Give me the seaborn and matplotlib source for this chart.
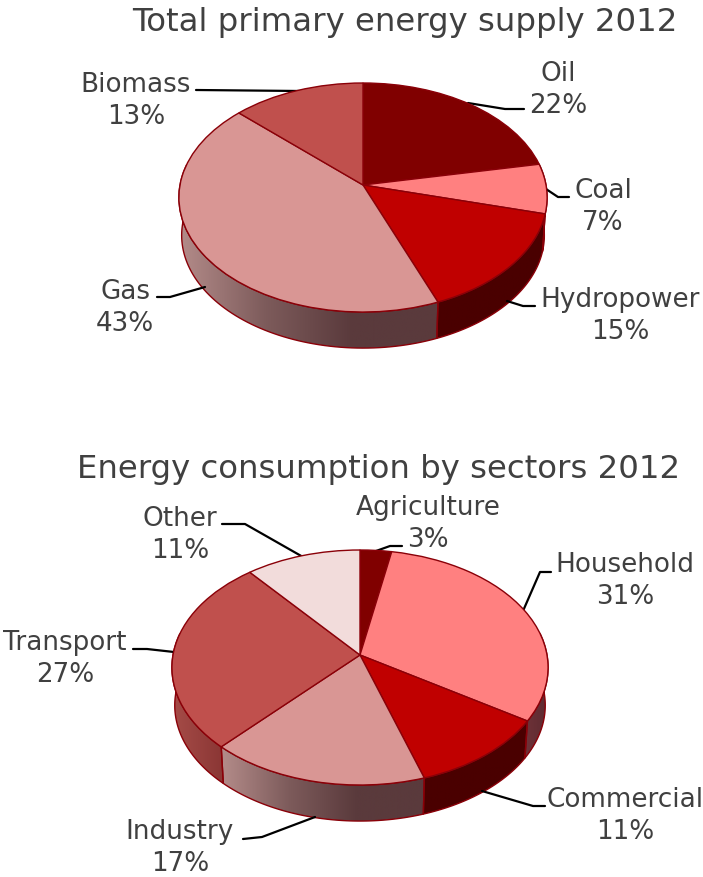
import numpy as np
import matplotlib
matplotlib.use("Agg")
import matplotlib.pyplot as plt
from matplotlib.colors import LinearSegmentedColormap
from matplotlib.patches import Polygon
from matplotlib.transforms import Transform
import seaborn as sns

# Shares in percent, clockwise from twelve o'clock
supply_names = ["Oil", "Coal", "Hydropower", "Gas", "Biomass"]
supply_values = [22, 7, 15, 43, 13]
sector_names = ["Agriculture", "Household", "Commercial", "Industry", "Transport", "Other"]
sector_values = [3, 31, 11, 17, 27, 11]
titles = ["Total primary energy supply 2012", "Energy consumption by sectors 2012"]

# Top-face fills
supply_colors = ["#800000", "#ff8080", "#c00000", "#d99694", "#c0504d"]
sector_colors = ["#800000", "#ff8080", "#c00000", "#d99694", "#c0504d", "#f2dcdb"]

# Rim shading per slice: colour stops running left to right
dark = ["#4a0000", "#4a0000"]
grey_rose = ["#b48c8a", "#7d5b5b", "#5a3a3c", "#5a3a3c"]
plum = ["#6e3238", "#5c2a30"]
brick = ["#a64c48", "#8a3634"]
supply_rims = [dark, plum, dark, grey_rose, brick]
sector_rims = [dark, plum, dark, grey_rose, brick, brick]

EDGE = "#8a0008"
INK = "#404040"
W, H = 703, 878
RIM_DEPTH = 38
RIM_SHRINK = 0.985


class DiscProjection(Transform):
    """Perspective view of the unit disc, giving canvas pixels."""
    input_dims = 2
    output_dims = 2
    is_separable = False
    has_inverse = False

    def __init__(self, cx, cy, rx, up, down, shrink=1.0, drop=0.0):
        super().__init__()
        self.k = (down - up) / (down + up)
        self.sy = up * (1 + self.k)
        self.cx, self.cy, self.rx = cx, cy, rx
        self.shrink, self.drop = shrink, drop

    def transform_non_affine(self, values):
        u, v = np.asarray(values, dtype=float).T
        w = 1 + self.k * v
        x = self.cx + self.shrink * self.rx * u / w
        y = self.cy + self.drop - self.shrink * self.sy * v / w
        return np.column_stack([x, y])


def arc_points(start_pct, stop_pct):
    angle = np.radians(np.linspace(start_pct, stop_pct, 80) * 3.6)
    return np.column_stack([np.sin(angle), np.cos(angle)])


def draw_rim(ax, top, bottom, start_pct, stop_pct, stops):
    # Only the near side of the cylinder is visible
    start_pct, stop_pct = max(start_pct, 22.0), min(stop_pct, 78.0)
    if stop_pct <= start_pct:
        return
    arc = arc_points(start_pct, stop_pct)
    outline = np.vstack([top.transform_non_affine(arc),
                         bottom.transform_non_affine(arc)[::-1]])
    patch = Polygon(outline, closed=True, facecolor="none", edgecolor=EDGE,
                    linewidth=1.0, zorder=1.5)
    ax.add_patch(patch)
    cmap = LinearSegmentedColormap.from_list("rim", stops)
    left, right = outline[:, 0].min(), outline[:, 0].max()
    low, high = outline[:, 1].min(), outline[:, 1].max()
    image = ax.imshow(np.linspace(0, 1, 256)[None, :], cmap=cmap, aspect="auto",
                      extent=(left, right, high, low), zorder=1)
    image.set_clip_path(patch)


def draw_pie(ax, values, colors, rims, geometry):
    top = DiscProjection(**geometry)
    bottom = DiscProjection(**geometry, shrink=RIM_SHRINK, drop=RIM_DEPTH)
    wedges, _ = ax.pie(values, colors=sns.color_palette(colors), startangle=90,
                       counterclock=False,
                       wedgeprops=dict(edgecolor=EDGE, linewidth=1.0))
    for wedge in wedges:
        wedge.set_transform(top + ax.transData)
        wedge.set_zorder(3)
    edges = np.concatenate([[0], np.cumsum(values)])
    for start, stop, stops in zip(edges[:-1], edges[1:], rims):
        draw_rim(ax, top, bottom, start, stop, stops)


def draw_label(ax, name, value, x, y, path):
    ax.text(x, y, f"{name}\n{value}%", ha="center", va="center", color=INK,
            fontsize=LABEL_SIZE, linespacing=1.32, zorder=6)
    xs, ys = zip(*path)
    ax.plot(xs, ys, color="black", linewidth=1.6, zorder=2.5,
            solid_joinstyle="round", solid_capstyle="round")


sns.set_theme(style="white")
plt.rcParams["font.family"] = ["DejaVu Sans"]
LABEL_SIZE = 18.9
TITLE_SIZE = 23.3

fig = plt.figure(figsize=(W / 100, H / 100), dpi=100)
ax = fig.add_axes([0, 0, 1, 1])

draw_pie(ax, supply_values, supply_colors, supply_rims,
         dict(cx=363, cy=186, rx=183, up=102, down=127))
draw_pie(ax, sector_values, sector_colors, sector_rims,
         dict(cx=360, cy=656, rx=187, up=105, down=130))

# Label anchors and their leader lines, in canvas pixels
supply_layout = [
    (558, 90, [(468, 104), (505, 110), (524, 110)]),
    (603, 207, [(546, 190), (558, 198), (569, 198)]),
    (620, 316, [(507, 302), (523, 307), (535, 307)]),
    (125, 308, [(205, 288), (170, 298), (157, 298)]),
    (136, 101, [(196, 91), (300, 92)]),
]
sector_layout = [
    (428, 524, [(376, 552), (390, 547), (402, 547)]),
    (625, 581, [(523, 612), (540, 573), (551, 573)]),
    (625.5, 816, [(482, 792), (533, 807), (545, 807)]),
    (180, 848, [(315, 818), (262, 838), (243, 840)]),
    (65, 659, [(174, 653), (147, 650), (133, 650)]),
    (180, 535, [(303, 558), (245, 525), (222, 525)]),
]
for name, value, spot in zip(supply_names, supply_values, supply_layout):
    draw_label(ax, name, value, *spot)
for name, value, spot in zip(sector_names, sector_values, sector_layout):
    draw_label(ax, name, value, *spot)

ax.text(405, 22, titles[0], ha="center", va="center", color=INK, fontsize=TITLE_SIZE)
ax.text(379, 470, titles[1], ha="center", va="center", color=INK, fontsize=TITLE_SIZE)

ax.set_aspect("auto")
ax.set_xlim(0, W)
ax.set_ylim(H, 0)
ax.axis("off")
fig.savefig("out.png", dpi=100, facecolor="white")
